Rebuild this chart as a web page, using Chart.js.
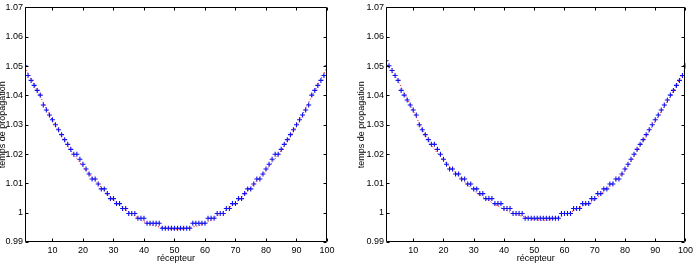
<!DOCTYPE html>
<html>
<head>
<meta charset="utf-8">
<script src="https://cdn.jsdelivr.net/npm/chart.js@4.4.1/dist/chart.umd.min.js"></script>
<style>
  body { margin: 0; background: #fff; }
  canvas { position: absolute; top: 0; }
  #gauche { left: 0; }
  #droite { left: 348px; }
</style>
</head>
<body>
<canvas id="gauche" width="348" height="270"></canvas>
<canvas id="droite" width="348" height="270"></canvas>
<script>
// receivers 1..100 (x axis index)
var recepteurs = Array.from({ length: 100 }, function (_, i) { return i + 1; });

var xTicks = [10, 20, 30, 40, 50, 60, 70, 80, 90, 100];
var yTicks = [0.99, 1.0, 1.01, 1.02, 1.03, 1.04, 1.05, 1.06, 1.07];

// left plot: measured (quantized) times, blue +
var tempsGauche = [
  1.0501, 1.0468, 1.0451, 1.0434, 1.0417, 1.0401, 1.0367, 1.0350, 1.0333, 1.0317,
  1.0300, 1.0283, 1.0266, 1.0249, 1.0233, 1.0216, 1.0199, 1.0199, 1.0182, 1.0165,
  1.0149, 1.0132, 1.0115, 1.0115, 1.0098, 1.0081, 1.0081, 1.0065, 1.0048, 1.0048,
  1.0031, 1.0031, 1.0014, 1.0014, 0.9997, 0.9997, 0.9997, 0.9981, 0.9981, 0.9981,
  0.9964, 0.9964, 0.9964, 0.9964, 0.9964, 0.9947, 0.9947, 0.9947, 0.9947, 0.9947,
  0.9947, 0.9947, 0.9947, 0.9947, 0.9947, 0.9964, 0.9964, 0.9964, 0.9964, 0.9964,
  0.9981, 0.9981, 0.9981, 0.9997, 0.9997, 0.9997, 1.0014, 1.0014, 1.0031, 1.0031,
  1.0048, 1.0048, 1.0065, 1.0081, 1.0081, 1.0098, 1.0115, 1.0115, 1.0132, 1.0149,
  1.0165, 1.0182, 1.0199, 1.0199, 1.0216, 1.0233, 1.0249, 1.0266, 1.0283, 1.0300,
  1.0317, 1.0333, 1.0350, 1.0367, 1.0401, 1.0417, 1.0434, 1.0451, 1.0468, 1.0501
];

// left plot: true curve, red dotted
var courbeXGauche = [1, 6, 11, 16, 21, 26, 31, 36, 41, 46, 50.5, 55, 60, 65, 70, 75, 80, 85, 90, 95, 100];
var courbeYGauche = [
  1.0496, 1.0396, 1.0296, 1.0212, 1.0145, 1.0086, 1.0034, 0.9996, 0.9964, 0.9949, 0.9942,
  0.9949, 0.9964, 0.9996, 1.0034, 1.0086, 1.0145, 1.0212, 1.0296, 1.0396, 1.0496
];

// right plot: measured (quantized) times, blue +
var tempsDroite = [
  1.0518, 1.0501, 1.0485, 1.0468, 1.0451, 1.0417, 1.0401, 1.0384, 1.0367, 1.0350,
  1.0333, 1.0300, 1.0283, 1.0266, 1.0249, 1.0233, 1.0233, 1.0216, 1.0199, 1.0182,
  1.0165, 1.0149, 1.0149, 1.0132, 1.0132, 1.0115, 1.0115, 1.0098, 1.0098, 1.0081,
  1.0081, 1.0065, 1.0065, 1.0048, 1.0048, 1.0048, 1.0031, 1.0031, 1.0031, 1.0014,
  1.0014, 1.0014, 0.9997, 0.9997, 0.9997, 0.9997, 0.9981, 0.9981, 0.9981, 0.9981,
  0.9981, 0.9981, 0.9981, 0.9981, 0.9981, 0.9981, 0.9981, 0.9981, 0.9997, 0.9997,
  0.9997, 0.9997, 1.0014, 1.0014, 1.0014, 1.0031, 1.0031, 1.0031, 1.0048, 1.0048,
  1.0065, 1.0065, 1.0081, 1.0081, 1.0098, 1.0098, 1.0115, 1.0115, 1.0132, 1.0149,
  1.0165, 1.0182, 1.0199, 1.0216, 1.0233, 1.0249, 1.0266, 1.0283, 1.0300, 1.0317,
  1.0333, 1.0350, 1.0367, 1.0384, 1.0401, 1.0417, 1.0434, 1.0451, 1.0468, 1.0501
];

// right plot: true curve, red dotted
var courbeXDroite = [1, 5, 10, 15, 20, 25, 30, 35, 40, 45, 50, 53, 56, 60, 65, 70, 75, 80, 85, 90, 95, 100];
var courbeYDroite = [
  1.0513, 1.0448, 1.0347, 1.0246, 1.0179, 1.0125, 1.0076, 1.0041, 1.0011, 0.9991, 0.9977,
  0.9974, 0.9977, 0.9991, 1.0018, 1.0044, 1.0093, 1.0144, 1.0228, 1.0312, 1.0396, 1.0493
];

var police = { family: "'Liberation Sans', Arial, Helvetica, sans-serif", size: 9 };

// box around the plot and inward ticks, matlab style
var cadre = {
  id: "cadre",
  afterDraw: function (chart) {
    var ctx = chart.ctx;
    var a = chart.chartArea;
    var sx = chart.scales.x;
    var sy = chart.scales.y;
    var L = Math.round(a.left) + 0.5;
    var R = Math.round(a.right) - 0.5;
    var T = Math.round(a.top) + 0.5;
    var B = Math.round(a.bottom) - 0.5;
    ctx.save();
    ctx.strokeStyle = "#000";
    ctx.lineWidth = 1;
    ctx.beginPath();
    ctx.rect(L, T, R - L, B - T);
    xTicks.forEach(function (v) {
      var px = Math.round(sx.getPixelForValue(v)) + 0.5;
      ctx.moveTo(px, B); ctx.lineTo(px, B - 3);
      ctx.moveTo(px, T); ctx.lineTo(px, T + 3);
    });
    yTicks.forEach(function (v) {
      var py = Math.round(sy.getPixelForValue(v)) + 0.5;
      ctx.moveTo(L, py); ctx.lineTo(L + 3, py);
      ctx.moveTo(R, py); ctx.lineTo(R - 3, py);
    });
    ctx.stroke();
    ctx.restore();
  }
};

function points(xs, ys) {
  return xs.map(function (x, i) { return { x: x, y: ys[i] }; });
}

function dessiner(id, temps, cx, cy, largeurY, padDroite, titrePad) {
  new Chart(document.getElementById(id), {
    type: "scatter",
    data: {
      datasets: [
        {
          label: "mesure",
          data: points(recepteurs, temps),
          pointStyle: "cross",
          pointRadius: 2.5,
          borderWidth: 1.1,
          borderColor: "#1010f0",
          backgroundColor: "#1010f0",
          showLine: false,
          order: 1
        },
        {
          label: "theorique",
          data: points(cx, cy),
          showLine: true,
          pointRadius: 0,
          borderColor: "#ff0000",
          borderWidth: 1,
          borderDash: [1, 2],
          cubicInterpolationMode: "monotone",
          order: 2
        }
      ]
    },
    options: {
      responsive: false,
      animation: false,
      devicePixelRatio: 1,
      layout: { padding: { top: 6, right: padDroite, left: 0, bottom: 0 } },
      plugins: { legend: { display: false }, tooltip: { enabled: false } },
      scales: {
        x: {
          type: "linear",
          min: 1,
          max: 100,
          grid: { display: false, drawTicks: false },
          border: { display: false },
          afterBuildTicks: function (s) {
            s.ticks = xTicks.map(function (v) { return { value: v }; });
          },
          afterFit: function (s) { s.height = 28; },
          ticks: { color: "#000", font: police, padding: 3, maxRotation: 0 },
          title: {
            display: true,
            text: "récepteur",
            color: "#000",
            font: police,
            padding: { top: 0, bottom: 5.6 }
          }
        },
        y: {
          min: 0.99,
          max: 1.07,
          grid: { display: false, drawTicks: false },
          border: { display: false },
          afterBuildTicks: function (s) {
            s.ticks = yTicks.map(function (v) { return { value: v }; });
          },
          afterFit: function (s) { s.width = largeurY; },
          ticks: {
            color: "#000",
            font: police,
            padding: 2,
            callback: function (v) { return String(Number(v.toFixed(2))); }
          },
          title: {
            display: true,
            text: "temps de propagation",
            color: "#000",
            font: police,
            padding: { top: titrePad, bottom: 0 }
          }
        }
      }
    },
    plugins: [cadre]
  });
}

dessiner("gauche", tempsGauche, courbeXGauche, courbeYGauche, 25, 21, -2.4);
dessiner("droite", tempsDroite, courbeXDroite, courbeYDroite, 38, 8, 8.1);
</script>
</body>
</html>
